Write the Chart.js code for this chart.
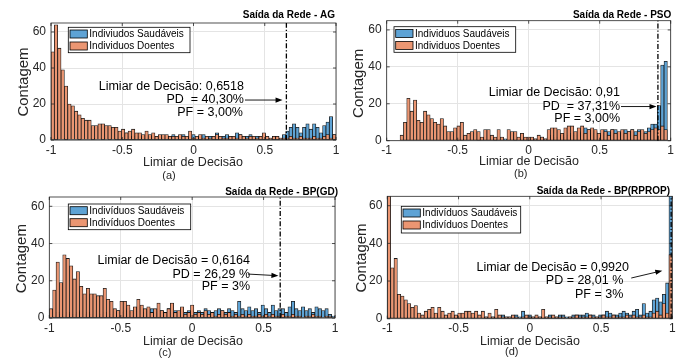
<!DOCTYPE html>
<html>
<head>
<meta charset="utf-8">
<script src="https://cdn.jsdelivr.net/npm/chart.js@4/dist/chart.umd.min.js"></script>
<style>
  html, body { margin: 0; padding: 0; background: #fff; }
  #wrap { position: relative; width: 689px; height: 358px; overflow: hidden; }
  .cell { position: absolute; }
</style>
</head>
<body>
<div id="wrap">
  <div class="cell" style="left:0;top:0;width:344px;height:183px"><canvas id="cA"></canvas></div>
  <div class="cell" style="left:344px;top:0;width:345px;height:183px"><canvas id="cB"></canvas></div>
  <div class="cell" style="left:0;top:179px;width:344px;height:179px"><canvas id="cC"></canvas></div>
  <div class="cell" style="left:344px;top:179px;width:345px;height:179px"><canvas id="cD"></canvas></div>
</div>
<script>
// histogramas: 85 classes entre -1 e 1
const BIN_MIN = -1, BIN_MAX = 1, N_BINS = 85;
const xTickValues = [-1, -0.5, 0, 0.5, 1];
const yTickValues = [0, 20, 40, 60];
const Y_MAX = 65;

// (a) AG
const agSaudaveis = [
  0,1,0,0,1,0,0,0,1,0,0,0,1,0,0,1,0,1,0,1,1,
  1,4,2,2,1,2,1,1,2,1,2,1,1,1,2,3,1,2,3,1,2,
  3,1,2,3,1,2,2,4,1,2,3,2,1,4,3,2,2,3,1,2,2,
  3,2,1,2,2,1,3,5,7,9,7,4,7,9,6,9,7,4,8,10,13,3];
const agDoentes = [
  49,64,51,39,30,20,19,16,14,12,11,11,8,8,9,9,8,8,7,7,5,
  6,4,5,6,4,4,3,5,3,4,2,3,3,3,2,2,2,3,2,2,5,
  1,2,3,1,2,1,2,3,2,1,1,2,2,1,3,2,1,2,2,1,2,
  4,2,1,2,2,1,1,1,2,1,1,2,1,1,1,2,1,1,2,3,1,3];

// (b) PSO
const psoSaudaveis = [
  0,0,0,0,0,0,0,0,0,0,0,0,0,0,0,0,0,0,0,0,0,
  0,1,0,0,0,0,1,0,0,0,0,1,0,0,1,0,0,1,0,1,1,1,
  1,1,1,2,1,2,3,2,2,3,2,3,4,3,5,4,7,6,4,5,3,
  4,6,5,6,6,4,5,6,5,6,5,6,4,5,7,9,9,19,41,43,0];
const psoDoentes = [
  0,0,0,0,3,10,23,16,22,11,10,16,14,12,10,9,12,8,5,5,7,
  8,10,3,4,5,6,5,2,6,6,3,2,6,2,0,6,5,5,2,4,2,2,
  2,1,3,2,1,6,7,7,6,4,7,8,8,5,7,8,4,6,7,6,4,
  6,5,3,6,4,5,6,4,5,6,3,5,6,4,5,6,7,6,8,6,0];

// (c) BP(GD)
const gdSaudaveis = [
  0,1,3,2,1,3,2,2,3,4,2,3,2,4,1,2,3,1,2,3,4,
  3,4,5,3,4,6,5,3,4,5,3,4,4,3,5,3,4,3,5,3,4,
  4,3,4,3,5,4,3,4,5,4,3,5,4,3,9,5,4,6,4,5,3,
  7,5,3,7,4,5,5,3,6,9,5,4,6,4,5,3,6,5,4,5,2,1];
const gdDoentes = [
  5,15,30,19,34,32,28,21,25,17,13,16,13,13,12,12,16,10,9,5,4,
  9,9,7,4,6,10,7,5,6,3,5,8,4,3,5,8,3,4,6,2,3,
  7,2,3,2,4,2,3,1,2,4,2,3,1,2,1,2,1,2,1,1,2,
  1,2,1,2,1,1,2,1,1,2,1,1,0,1,1,2,1,1,0,1,1,0];

// (d) BP(RPROP)
const rpropSaudaveis = [
  0,0,0,0,0,1,0,0,0,0,0,0,1,0,0,0,0,0,0,0,1,
  0,1,0,0,1,0,0,0,1,1,1,1,1,2,1,1,1,2,1,4,1,
  2,1,1,1,1,1,2,1,1,2,2,1,1,2,2,2,2,3,2,2,1,
  2,2,4,3,2,2,3,4,3,2,4,5,2,8,3,4,10,11,9,13,19,90];
const rpropDoentes = [
  75,27,32,13,12,10,8,6,7,3,2,4,5,6,3,6,4,2,3,4,2,
  3,3,4,4,3,4,2,4,1,3,1,5,2,1,1,1,2,1,0,1,2,
  1,1,2,1,5,1,1,2,1,1,1,0,1,1,2,1,1,1,2,1,1,
  1,2,1,1,2,1,1,1,2,1,2,1,1,2,1,1,3,4,2,8,3,34];

const binCenters = Array.from({length: N_BINS}, (_, i) => BIN_MIN + (i + 0.5) * (BIN_MAX - BIN_MIN) / N_BINS);

const FONT = "'Liberation Sans', Arial, Helvetica, sans-serif";
const BLUE = 'rgb(94,163,213)';
const ORANGE = 'rgb(235,150,114)';
const EDGE = 'rgba(15,15,15,0.95)';
const INK = '#262626';

function toXY(counts) {
  return counts.map((c, i) => ({x: binCenters[i], y: c})).filter(p => p.y > 0);
}

function drawDecor(chart, p) {
  const ctx = chart.ctx, a = chart.chartArea, xs = chart.scales.x, ys = chart.scales.y;
  ctx.save();
  // caixa e marcas internas
  ctx.strokeStyle = INK; ctx.lineWidth = 0.8;
  ctx.strokeRect(a.left, a.top, a.right - a.left, a.bottom - a.top);
  ctx.beginPath();
  xTickValues.forEach(v => {
    const x = xs.getPixelForValue(v);
    ctx.moveTo(x, a.bottom); ctx.lineTo(x, a.bottom - 3);
    ctx.moveTo(x, a.top); ctx.lineTo(x, a.top + 3);
  });
  yTickValues.forEach(v => {
    const y = ys.getPixelForValue(v);
    ctx.moveTo(a.left, y); ctx.lineTo(a.left + 3, y);
    ctx.moveTo(a.right, y); ctx.lineTo(a.right - 3, y);
  });
  ctx.stroke();

  // limiar (traço-ponto)
  const tx = xs.getPixelForValue(p.threshold);
  ctx.strokeStyle = '#000'; ctx.lineWidth = 1.3;
  ctx.setLineDash([5, 2, 1.2, 2]);
  ctx.beginPath(); ctx.moveTo(tx, a.bottom); ctx.lineTo(tx, a.top); ctx.stroke();
  ctx.setLineDash([]);

  // seta
  const x1 = xs.getPixelForValue(p.arrow[0]), y1 = ys.getPixelForValue(p.arrow[1]);
  const x2 = xs.getPixelForValue(p.arrow[2]), y2 = ys.getPixelForValue(p.arrow[3]);
  const ang = Math.atan2(y2 - y1, x2 - x1);
  ctx.lineWidth = 0.9;
  ctx.beginPath(); ctx.moveTo(x1, y1); ctx.lineTo(x2 - 5 * Math.cos(ang), y2 - 5 * Math.sin(ang)); ctx.stroke();
  ctx.fillStyle = '#000';
  ctx.beginPath();
  ctx.moveTo(x2, y2);
  ctx.lineTo(x2 - 7 * Math.cos(ang) + 2.6 * Math.sin(ang), y2 - 7 * Math.sin(ang) - 2.6 * Math.cos(ang));
  ctx.lineTo(x2 - 7 * Math.cos(ang) - 2.6 * Math.sin(ang), y2 - 7 * Math.sin(ang) + 2.6 * Math.cos(ang));
  ctx.closePath(); ctx.fill();

  // texto do limiar
  ctx.font = `12.5px ${FONT}`;
  ctx.textAlign = 'right'; ctx.textBaseline = 'middle';
  const nx = xs.getPixelForValue(p.noteAt[0]), ny = ys.getPixelForValue(p.noteAt[1]);
  p.note.forEach((t, i) => ctx.fillText(t, nx + p.noteDx[i], ny + p.noteDy[i]));

  // legenda
  const [lx, ly, lw, lh] = p.legendBox;
  ctx.fillStyle = '#fff'; ctx.fillRect(lx, ly, lw, lh);
  ctx.strokeStyle = '#000'; ctx.lineWidth = 0.8; ctx.strokeRect(lx, ly, lw, lh);
  ctx.font = `10px ${FONT}`; ctx.textAlign = 'left';
  [[BLUE, p.legend[0]], [ORANGE, p.legend[1]]].forEach(([col, lab], i) => {
    const cy = ly + 6.7 + i * 12;
    ctx.fillStyle = col; ctx.fillRect(lx + 1.7, cy - 4, 17.3, 8);
    ctx.strokeStyle = '#000'; ctx.lineWidth = 0.8; ctx.strokeRect(lx + 1.7, cy - 4, 17.3, 8);
    ctx.fillStyle = '#000'; ctx.fillText(lab, lx + 21, cy + 0.5);
  });

  // títulos
  ctx.fillStyle = '#000';
  ctx.font = `bold 10px ${FONT}`; ctx.textAlign = 'right';
  ctx.fillText(p.title, p.titlePos[0], p.titlePos[1]);
  ctx.fillStyle = INK;
  ctx.font = `12.5px ${FONT}`; ctx.textAlign = 'center';
  ctx.fillText('Limiar de Decisão', p.xLabelPos[0], p.xLabelPos[1]);
  ctx.font = `11px ${FONT}`;
  ctx.fillText(p.letter, p.letterPos[0], p.letterPos[1]);
  ctx.save();
  ctx.translate(p.yLabelPos[0], p.yLabelPos[1]); ctx.rotate(-Math.PI / 2);
  ctx.font = `15px ${FONT}`; ctx.fillText('Contagem', 0, 0);
  ctx.restore();
  ctx.restore();
}

function makePanel(id, p) {
  const cell = document.getElementById(id).parentNode;
  const W = cell.clientWidth, H = cell.clientHeight;
  const [pl, pt, pr, pb] = p.plot;
  return new Chart(document.getElementById(id), {
    type: 'bar',
    data: {
      datasets: [
        { label: p.legend[1], data: toXY(p.doentes), backgroundColor: ORANGE, borderColor: EDGE,
          borderWidth: 0.8, borderSkipped: false, grouped: false, barPercentage: 1, categoryPercentage: 1, order: 0 },
        { label: p.legend[0], data: toXY(p.saudaveis), backgroundColor: BLUE, borderColor: EDGE,
          borderWidth: 0.8, borderSkipped: false, grouped: false, barPercentage: 1, categoryPercentage: 1, order: 1 }
      ]
    },
    options: {
      responsive: true,
      maintainAspectRatio: false,
      animation: false,
      layout: { padding: { left: 0, top: pt, right: W - pr, bottom: 0 } },
      scales: {
        x: {
          type: 'linear', min: BIN_MIN, max: BIN_MAX, offset: false,
          grid: { color: '#e4e4e4', offset: false, drawTicks: false },
          border: { display: false },
          afterBuildTicks: s => { s.ticks = xTickValues.map(v => ({value: v})); },
          ticks: { color: INK, font: { family: FONT, size: 12 }, padding: 3, maxRotation: 0, autoSkip: false,
                   callback: v => String(v) },
          afterFit: s => { s.height = H - pb; }
        },
        y: {
          min: 0, max: Y_MAX,
          grid: { color: '#e4e4e4', drawTicks: false },
          border: { display: false },
          afterBuildTicks: s => { s.ticks = yTickValues.map(v => ({value: v})); },
          ticks: { color: INK, font: { family: FONT, size: 12 }, padding: 5 },
          afterFit: s => { s.width = pl; }
        }
      },
      plugins: { legend: { display: false }, tooltip: { enabled: false } }
    },
    plugins: [{ id: 'decor', afterDraw: chart => drawDecor(chart, p) }]
  });
}

makePanel('cA', {
  saudaveis: agSaudaveis, doentes: agDoentes,
  legend: ['Indiviudos Saudáveis', 'Individuos Doentes'],
  title: 'Saída da Rede - AG', letter: '(a)', threshold: 0.6518,
  note: ['Limiar de Decisão: 0,6518', 'PD  = 40,30%', 'PF = 3,00%'],
  noteAt: [0.354, 22.2], noteDx: [0, 0, -1], noteDy: [-13, 0, 13],
  arrow: [0.361, 22.2, 0.625, 22.2],
  plot: [51, 23, 336, 140],
  legendBox: [68.3, 27.3, 121.7, 25.4],
  titlePos: [335, 15.5], xLabelPos: [193, 162.5], letterPos: [169, 175.5], yLabelPos: [24, 82]
});

makePanel('cB', {
  saudaveis: psoSaudaveis, doentes: psoDoentes,
  legend: ['Individuos Saudáveis', 'Individuos Doentes'],
  title: 'Saída da Rede - PSO', letter: '(b)', threshold: 0.91,
  note: ['Limiar de Decisão: 0,91', 'PD  = 37,31%', 'PF = 3,00%'],
  noteAt: [0.643, 18.5], noteDx: [0, 0, 0], noteDy: [-13.5, 0, 12],
  arrow: [0.65, 18.5, 0.9, 18.5],
  plot: [42.7, 20.7, 326.7, 140.7],
  legendBox: [50, 26.7, 121.7, 25.6],
  titlePos: [327.3, 15.5], xLabelPos: [185, 162], letterPos: [176.7, 173.5], yLabelPos: [15, 83.3]
});

makePanel('cC', {
  saudaveis: gdSaudaveis, doentes: gdDoentes,
  legend: ['Indivíduos Saudáveis', 'Indivíduos Doentes'],
  title: 'Saída da Rede - BP(GD)', letter: '(c)', threshold: 0.6164,
  note: ['Limiar de Decisão = 0,6164', 'PD = 26,29 %', 'PF = 3%'],
  noteAt: [0.405, 23.6], noteDx: [0, 0, 0], noteDy: [-14, 0, 12.5],
  arrow: [0.391, 23.6, 0.604, 22.7],
  plot: [49.3, 18, 335, 139],
  legendBox: [68.3, 25, 122.4, 25.7],
  titlePos: [338, 13.5], xLabelPos: [193, 162.5], letterPos: [165, 174], yLabelPos: [21.7, 79.7]
});

makePanel('cD', {
  saudaveis: rpropSaudaveis, doentes: rpropDoentes,
  legend: ['Indivíduos Saudáveis', 'Indivíduos Doentes'],
  title: 'Saída da Rede - BP(RPROP)', letter: '(d)', threshold: 0.992,
  note: ['Limiar de Decisão = 0,9920', 'PD = 28,01 %', 'PF = 3%'],
  noteAt: [0.696, 20.5], noteDx: [0, -5.7, -5.7], noteDy: [-12.5, 0, 14],
  arrow: [0.712, 21.6, 0.93, 25.5],
  plot: [43.3, 17.3, 328.3, 139.7],
  legendBox: [57.3, 27.3, 119.4, 26.7],
  titlePos: [326, 12], xLabelPos: [186, 162.5], letterPos: [167.7, 172.5], yLabelPos: [18.3, 79]
});
</script>
</body>
</html>
